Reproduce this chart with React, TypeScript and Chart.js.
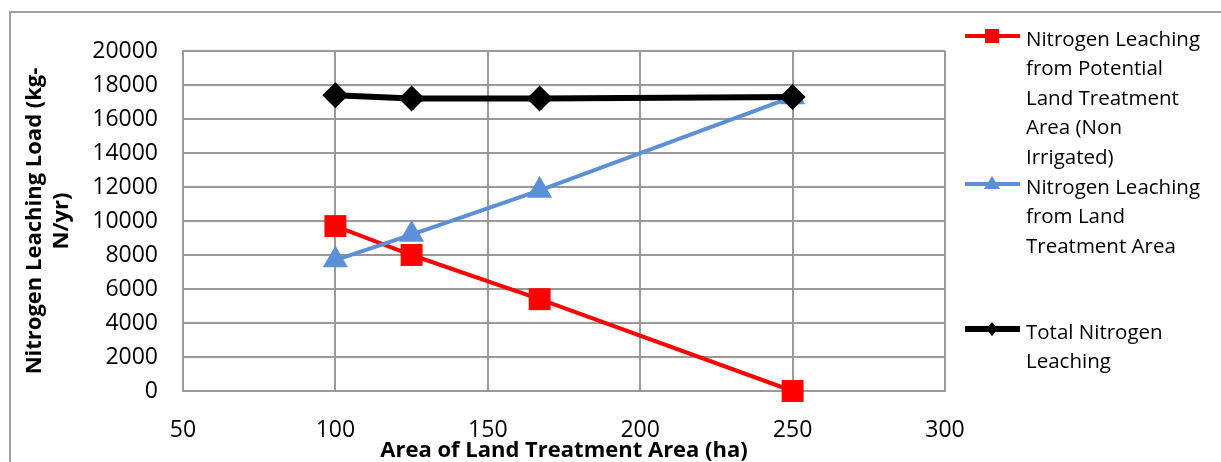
import React, { useEffect, useRef } from "react";
import { Chart, registerables } from "chart.js";

Chart.register(...registerables);

// ---- Data ----
const areaHa = [100, 125, 167, 250];
const leachingNonIrrigated = [9700, 8000, 5400, 0];
const leachingLandTreatment = [7700, 9200, 11800, 17300];
const leachingTotal = [17400, 17200, 17200, 17300];

const seriesLabels = [
  ["Nitrogen Leaching", "from Potential", "Land Treatment", "Area (Non", "Irrigated)"],
  ["Nitrogen Leaching", "from Land", "Treatment Area"],
  ["Total Nitrogen", "Leaching"],
];
const xTitle = "Area of Land Treatment Area (ha)";
const yTitle = ["Nitrogen Leaching Load (kg-", "N/yr)"];
const xRange = [50, 300, 50];
const yRange = [0, 20000, 2000];

// ---- Styles ----
const FONT = '"Open Sans", "DejaVu Sans", sans-serif';
const GRID = "#9a9a9a";
const RED = "#ff0000";
const BLUE = "#5b8fd7";
const BLACK = "#000000";

const toPoints = (ys: number[]) => ys.map((y, i) => ({ x: areaHa[i], y }));

const framePlugin = {
  id: "frame",
  beforeDraw(chart: any) {
    const ctx = chart.ctx;
    ctx.save();
    ctx.fillStyle = "#ffffff";
    ctx.fillRect(0, 0, chart.width, chart.height);
    ctx.strokeStyle = "#a0a0a0";
    ctx.lineWidth = 2;
    ctx.strokeRect(10, 12, chart.width + 50, chart.height + 50);
    ctx.restore();
  },
};

function drawMarker(ctx: CanvasRenderingContext2D, kind: string, x: number, y: number, color: string) {
  ctx.fillStyle = color;
  ctx.beginPath();
  if (kind === "rect") {
    ctx.rect(x - 7, y - 7, 14, 14);
  } else if (kind === "triangle") {
    ctx.moveTo(x, y - 8);
    ctx.lineTo(x + 8, y + 5);
    ctx.lineTo(x - 8, y + 5);
    ctx.closePath();
  } else {
    ctx.moveTo(x, y - 7);
    ctx.lineTo(x + 6, y);
    ctx.lineTo(x, y + 7);
    ctx.lineTo(x - 6, y);
    ctx.closePath();
  }
  ctx.fill();
}

const legendPlugin = {
  id: "sideLegend",
  afterDraw(chart: any) {
    const ctx: CanvasRenderingContext2D = chart.ctx;
    const firstBaselines = [45.5, 193.5, 338.5];
    const lineStep = 29.5;
    ctx.save();
    chart.data.datasets.forEach((ds: any, i: number) => {
      const base = firstBaselines[i];
      const ly = base - 9.5;
      ctx.strokeStyle = ds.borderColor;
      ctx.lineWidth = ds.borderWidth;
      ctx.beginPath();
      ctx.moveTo(965, ly);
      ctx.lineTo(1020, ly);
      ctx.stroke();
      drawMarker(ctx, ds.pointStyle, 992, ly, ds.borderColor);
      ctx.fillStyle = "#000";
      ctx.font = `20.5px ${FONT}`;
      ctx.textAlign = "left";
      ctx.textBaseline = "alphabetic";
      seriesLabels[i].forEach((t, k) => {
        ctx.fillText(t, 1026, base + k * lineStep);
      });
    });
    ctx.restore();
  },
};

export default function App() {
  const ref = useRef<HTMLCanvasElement>(null);

  useEffect(() => {
    const canvas = ref.current;
    if (!canvas) return;
    const tickFont = { family: FONT, size: 23 };
    const titleFont = { family: FONT, size: 22, weight: "bold" as const, lineHeight: 1.2 };
    const xTitleFont = { family: FONT, size: 22, weight: "bold" as const, lineHeight: 1.0 };
    const chart = new Chart(canvas, {
      type: "line",
      data: {
        datasets: [
          {
            label: seriesLabels[0].join(" "),
            data: toPoints(leachingNonIrrigated),
            borderColor: RED,
            backgroundColor: RED,
            borderWidth: 4,
            pointStyle: "rect",
            pointRadius: 15.5,
            pointBorderWidth: 0,
            pointBackgroundColor: RED,
            order: 3,
            clip: false,
          },
          {
            label: seriesLabels[1].join(" "),
            data: toPoints(leachingLandTreatment),
            borderColor: BLUE,
            backgroundColor: BLUE,
            borderWidth: 4,
            pointStyle: "triangle",
            pointRadius: 14.5,
            pointBorderWidth: 0,
            pointBackgroundColor: BLUE,
            order: 2,
            clip: false,
          },
          {
            label: seriesLabels[2].join(" "),
            data: toPoints(leachingTotal),
            borderColor: BLACK,
            backgroundColor: BLACK,
            borderWidth: 6,
            pointStyle: "rectRot",
            pointRadius: 13,
            pointBorderWidth: 0,
            pointBackgroundColor: BLACK,
            order: 1,
            clip: false,
          },
        ],
      },
      options: {
        responsive: false,
        animation: false,
        layout: { padding: { left: 0, top: 51, right: 276, bottom: 0 } },
        plugins: { legend: { display: false }, tooltip: { enabled: false } },
        elements: { line: { tension: 0 } },
        scales: {
          x: {
            type: "linear",
            min: xRange[0],
            max: xRange[1],
            ticks: {
              stepSize: xRange[2],
              color: "#000",
              font: tickFont,
              padding: 26,
              callback: (v: any) => String(v),
            },
            grid: { color: GRID, lineWidth: 2, drawTicks: false },
            border: { color: GRID, width: 2 },
            title: {
              display: true,
              text: xTitle,
              color: "#000",
              font: xTitleFont,
              padding: { top: 0, bottom: 0 },
            },
            afterFit: (s: any) => {
              s.height = 71;
            },
          },
          y: {
            type: "linear",
            min: yRange[0],
            max: yRange[1],
            ticks: {
              stepSize: yRange[2],
              color: "#000",
              font: tickFont,
              padding: 25,
              callback: (v: any) => String(v),
            },
            grid: { color: GRID, lineWidth: 2, drawTicks: false },
            border: { color: GRID, width: 2 },
            title: {
              display: true,
              text: yTitle,
              color: "#000",
              font: titleFont,
              padding: { top: 22, bottom: 0 },
            },
            afterFit: (s: any) => {
              s.width = 183;
            },
          },
        },
      },
      plugins: [framePlugin, legendPlugin],
    } as any);
    return () => chart.destroy();
  }, []);

  return (
    <canvas
      ref={ref}
      width={1221}
      height={462}
      style={{ position: "absolute", left: 0, top: 0, display: "block" }}
    />
  );
}
